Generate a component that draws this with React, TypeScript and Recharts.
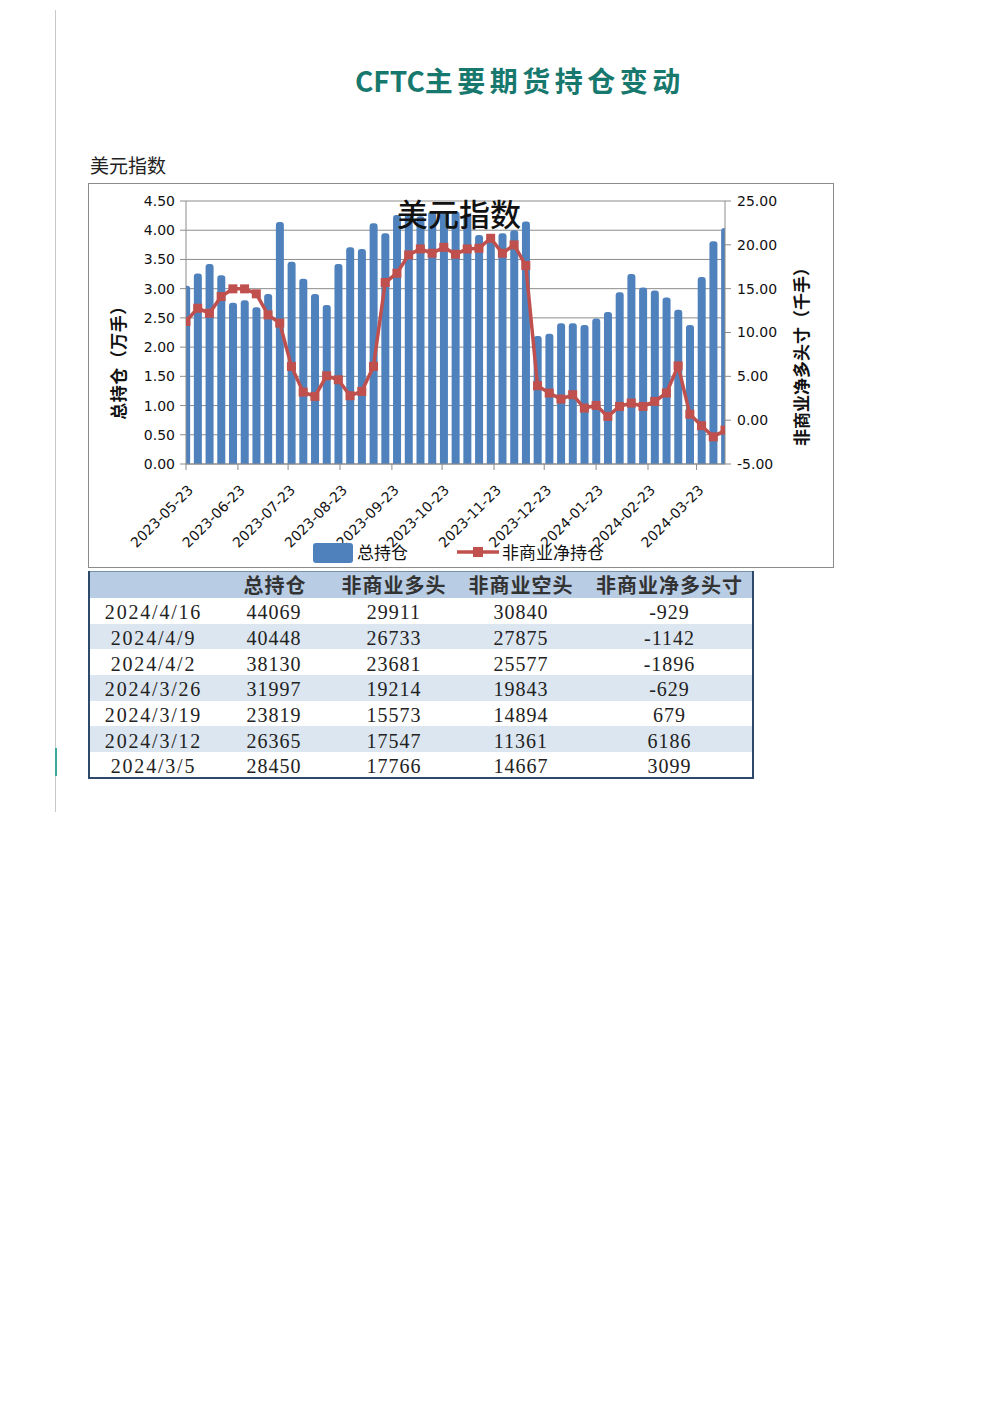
import React from 'react';
import { ComposedChart, Bar, Line, XAxis, YAxis, CartesianGrid } from 'recharts';

// weekly report dates (Tuesdays)
const DATES = [
  '2023-05-23', '2023-05-30', '2023-06-06', '2023-06-13', '2023-06-20', '2023-06-27',
  '2023-07-04', '2023-07-11', '2023-07-18', '2023-07-25', '2023-08-01', '2023-08-08',
  '2023-08-15', '2023-08-22', '2023-08-29', '2023-09-05', '2023-09-12', '2023-09-19',
  '2023-09-26', '2023-10-03', '2023-10-10', '2023-10-17', '2023-10-24', '2023-10-31',
  '2023-11-07', '2023-11-14', '2023-11-21', '2023-11-28', '2023-12-05', '2023-12-12',
  '2023-12-19', '2023-12-26', '2024-01-02', '2024-01-09', '2024-01-16', '2024-01-23',
  '2024-01-30', '2024-02-06', '2024-02-13', '2024-02-20', '2024-02-27', '2024-03-05',
  '2024-03-12', '2024-03-19', '2024-03-26', '2024-04-02', '2024-04-09',
];

// 总持仓（万手）
const TOTAL_OI = [
  3.05, 3.26, 3.42, 3.23, 2.76, 2.80, 2.68, 2.91, 4.14, 3.46, 3.17, 2.91,
  2.72, 3.42, 3.71, 3.68, 4.12, 3.95, 4.26, 4.27, 4.24, 4.32, 4.29, 4.32,
  4.28, 3.92, 3.92, 3.95, 4.00, 4.15, 2.19, 2.23, 2.41, 2.41, 2.38, 2.49,
  2.60, 2.94, 3.25, 3.02, 2.97, 2.85, 2.64, 2.38, 3.20, 3.81, 4.04,
];

// 非商业净持仓（千手）
const NET_LONG = [
  11.26, 12.77, 12.20, 14.10, 14.98, 14.98, 14.41, 12.01, 11.07, 6.13, 3.20, 2.71,
  5.06, 4.61, 2.79, 3.28, 6.13, 15.70, 16.76, 18.85, 19.53, 19.04, 19.72, 18.93,
  19.53, 19.61, 20.75, 19.04, 19.99, 17.64, 3.93, 3.09, 2.41, 2.90, 1.38, 1.68,
  0.43, 1.57, 1.95, 1.57, 2.14, 3.10, 6.19, 0.68, -0.63, -1.90, -1.14,
];

const MONTH_TICKS = [
  '2023-05-23', '2023-06-23', '2023-07-23', '2023-08-23', '2023-09-23', '2023-10-23',
  '2023-11-23', '2023-12-23', '2024-01-23', '2024-02-23', '2024-03-23',
];
const LEFT_TICKS = [0, 0.5, 1, 1.5, 2, 2.5, 3, 3.5, 4, 4.5];
const RIGHT_TICKS = [-5, 0, 5, 10, 15, 20, 25];

const TABLE_HEAD = ['', '总持仓', '非商业多头', '非商业空头', '非商业净多头寸'];
const TABLE_DATES = ['2024/4/16', '2024/4/9', '2024/4/2', '2024/3/26', '2024/3/19', '2024/3/12', '2024/3/5'];
const TABLE_TOTAL = [44069, 40448, 38130, 31997, 23819, 26365, 28450];
const TABLE_LONG = [29911, 26733, 23681, 19214, 15573, 17547, 17766];
const TABLE_SHORT = [30840, 27875, 25577, 19843, 14894, 11361, 14667];
const TABLE_NET = [-929, -1142, -1896, -629, 679, 6186, 3099];

const BLUE = '#4f81bd';
const RED = '#c0504d';
const GRID = '#8c8c8c';
const CJK = '"Noto Sans CJK SC", "Noto Sans", sans-serif';

const toDay = (s: string) => {
  const [y, m, d] = s.split('-').map(Number);
  return Date.UTC(y, m - 1, d) / 86400000;
};
const fmtDay = (v: number) => new Date(v * 86400000).toISOString().slice(0, 10);

const data = DATES.map((d, i) => ({ t: toDay(d), total: TOTAL_OI[i], net: NET_LONG[i] }));

const XTick = (props: any) => {
  const { x, y, payload } = props;
  const px = x + 8;
  const py = y + 19;
  return (
    <text x={px} y={py} transform={`rotate(-45 ${px} ${py})`} textAnchor="end"
      fontSize={14} fontFamily="DejaVu Sans" fill="#111">
      {fmtDay(payload.value)}
    </text>
  );
};

const SquareDot = (props: any) => {
  const { cx, cy, index } = props;
  if (cx == null || cy == null) return null;
  return <rect key={`dot-${index}`} x={cx - 4.5} y={cy - 4.5} width={9} height={9} fill={RED} />;
};

const App: React.FC = () => {
  const tickStyle = { fontSize: 14, fontFamily: 'DejaVu Sans', fill: '#111' };
  return (
    <div style={{ position: 'absolute', left: 0, top: 0, width: 992, height: 1403, background: '#fff' }}>
      {/* page margin line */}
      <div style={{ position: 'absolute', left: 55, top: 10, width: 1, height: 802, background: '#c8c8c8' }} />
      <div style={{ position: 'absolute', left: 55, top: 748, width: 2, height: 28, background: '#3aa99c' }} />

      <div style={{
        position: 'absolute', left: 355, top: 60, fontFamily: CJK, fontWeight: 700,
        fontSize: 28, color: '#17786e', whiteSpace: 'nowrap', lineHeight: '40px',
      }}>
        <span>CFTC</span><span style={{ letterSpacing: 4.5 }}>主要期货持仓变动</span>
      </div>

      <div style={{ position: 'absolute', left: 90, top: 152, fontFamily: CJK, fontSize: 19, color: '#222', lineHeight: '26px' }}>
        美元指数
      </div>

      {/* chart frame */}
      <div style={{ position: 'absolute', left: 88, top: 183, width: 746, height: 385, border: '1px solid #8c8c8c', boxSizing: 'border-box' }} />
      <div style={{ position: 'absolute', left: 88, top: 183 }}>
        <ComposedChart width={746} height={385} data={data} margin={{ top: 18, right: 49, bottom: 44, left: 38 }}>
          <CartesianGrid yAxisId="left" vertical={false} stroke={GRID} />
          <XAxis
            type="number" dataKey="t" allowDataOverflow
            domain={[toDay(DATES[0]), toDay(DATES[DATES.length - 1])]}
            ticks={MONTH_TICKS.map(toDay)} interval={0}
            height={60} stroke={GRID} tickSize={6} tick={<XTick />}
          />
          <YAxis
            yAxisId="left" orientation="left" width={60} domain={[0, 4.5]} ticks={LEFT_TICKS}
            interval={0} stroke={GRID} tickSize={6} tickMargin={5} tick={tickStyle}
            tickFormatter={(v: number) => v.toFixed(2)}
            label={({ viewBox }: any) => (
              <text x={viewBox.x - 9} y={viewBox.y + viewBox.height / 2 + 26} textAnchor="middle"
                dominantBaseline="central" transform={`rotate(-90 ${viewBox.x - 9} ${viewBox.y + viewBox.height / 2 + 26})`}
                fontSize={17} fontWeight={700} fontFamily={CJK} fill="#111" letterSpacing={0.5}>
                总持仓（万手）
              </text>
            )}
          />
          <YAxis
            yAxisId="right" orientation="right" width={60} domain={[-5, 25]} ticks={RIGHT_TICKS}
            interval={0} stroke={GRID} tickSize={6} tickMargin={6} tick={tickStyle}
            tickFormatter={(v: number) => v.toFixed(2)}
            label={({ viewBox }: any) => (
              <text x={viewBox.x + 75} y={viewBox.y + viewBox.height / 2 + 20} textAnchor="middle"
                dominantBaseline="central" transform={`rotate(-90 ${viewBox.x + 75} ${viewBox.y + viewBox.height / 2 + 20})`}
                fontSize={17} fontWeight={700} fontFamily={CJK} fill="#111">
                非商业净多头寸（千手）
              </text>
            )}
          />
          <Bar yAxisId="left" dataKey="total" fill={BLUE} barSize={8} radius={[3, 3, 0, 0]} isAnimationActive={false} />
          <Line yAxisId="right" dataKey="net" type="linear" stroke={RED} strokeWidth={3.5}
            dot={<SquareDot />} activeDot={false} isAnimationActive={false} />
        </ComposedChart>
      </div>

      <div style={{
        position: 'absolute', left: 397, top: 195, fontFamily: CJK, fontWeight: 500, fontSize: 31,
        color: '#111', lineHeight: '36px', whiteSpace: 'nowrap',
      }}>
        美元指数
      </div>

      {/* legend */}
      <div style={{ position: 'absolute', left: 313, top: 543, width: 40, height: 20, borderRadius: 3, background: BLUE }} />
      <div style={{ position: 'absolute', left: 357, top: 540, fontFamily: CJK, fontSize: 17, color: '#111', lineHeight: '24px' }}>总持仓</div>
      <svg style={{ position: 'absolute', left: 457, top: 545 }} width={42} height={14}>
        <line x1={0} y1={7} x2={42} y2={7} stroke={RED} strokeWidth={3.5} />
        <rect x={16} y={2} width={10} height={10} fill={RED} />
      </svg>
      <div style={{ position: 'absolute', left: 502, top: 540, fontFamily: CJK, fontSize: 17, color: '#111', lineHeight: '24px' }}>非商业净持仓</div>

      {/* data table */}
      <table style={{
        position: 'absolute', left: 88, top: 571, width: 664, borderCollapse: 'collapse',
        border: '2px solid #2d4a6b', borderTop: '1px solid #7a8fa8', tableLayout: 'fixed',
      }}>
        <colgroup>
          <col style={{ width: 128 }} />
          <col style={{ width: 116 }} />
          <col style={{ width: 122 }} />
          <col style={{ width: 132 }} />
          <col style={{ width: 166 }} />
        </colgroup>
        <thead>
          <tr style={{ background: '#b8cce4', height: 26 }}>
            {TABLE_HEAD.map((h, i) => (
              <th key={i} style={{
                padding: 0, fontFamily: CJK, fontWeight: 700, fontSize: 20, color: '#333',
                textAlign: 'center', lineHeight: '26px', letterSpacing: 1, whiteSpace: 'nowrap',
              }}>{h}</th>
            ))}
          </tr>
        </thead>
        <tbody>
          {TABLE_DATES.map((d, r) => (
            <tr key={d} style={{ background: r % 2 === 1 ? '#dce6f1' : '#ffffff', height: 25.7 }}>
              {[d, TABLE_TOTAL[r], TABLE_LONG[r], TABLE_SHORT[r], TABLE_NET[r]].map((v, c) => (
                <td key={c} style={{
                  padding: 0, paddingTop: 3, fontFamily: '"Liberation Serif", serif', fontSize: 20, color: '#222',
                  textAlign: 'center', lineHeight: '22px', letterSpacing: c === 0 ? 1.8 : 1,
                  paddingRight: c === 1 ? 2 : 0,
                }}>{v}</td>
              ))}
            </tr>
          ))}
        </tbody>
      </table>
    </div>
  );
};

export default App;
